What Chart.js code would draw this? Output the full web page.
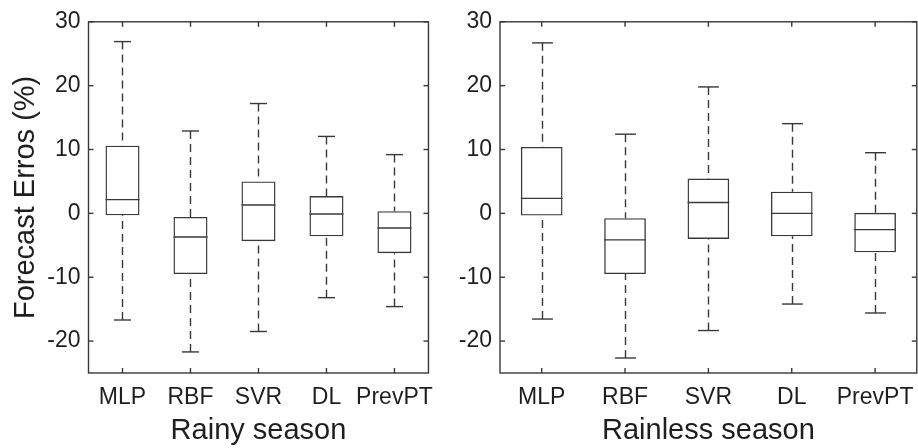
<!DOCTYPE html>
<html>
<head>
<meta charset="utf-8">
<script src="https://cdn.jsdelivr.net/npm/chart.js@4/dist/chart.umd.min.js"></script>
<style>
body { margin: 0; background: #fff; }
#lienzo { position: relative; width: 918px; height: 448px; overflow: hidden; background: #fff; }
canvas { position: absolute; top: 0; }
</style>
</head>
<body>
<div id="lienzo">
  <canvas id="graficaLluvia" width="445" height="448" style="left:0px"></canvas>
  <canvas id="graficaSeca" width="480" height="448" style="left:445px"></canvas>
</div>
<script>
const categorias = ['MLP', 'RBF', 'SVR', 'DL', 'PrevPT'];
const ticksY = [-20, -10, 0, 10, 20, 30];

// Rainy season
const lluviaMin     = [-16.7, -21.7, -18.5, -13.2, -14.6];
const lluviaQ1      = [-0.3, -9.5, -4.35, -3.6, -6.25];
const lluviaMediana = [2.15, -3.7, 1.3, -0.1, -2.3];
const lluviaQ3      = [10.6, -0.55, 5.0, 2.7, 0.35];
const lluviaMax     = [26.9, 12.9, 17.2, 12.05, 9.2];

// Rainless season
const secaMin     = [-16.55, -22.65, -18.35, -14.2, -15.6];
const secaQ1      = [-0.35, -9.5, -4.0, -3.6, -6.1];
const secaMediana = [2.35, -4.15, 1.7, 0.0, -2.55];
const secaQ3      = [10.4, -0.75, 5.45, 3.4, 0.1];
const secaMax     = [26.7, 12.4, 19.8, 14.05, 9.5];

const colorLinea = '#383838';
const colorTexto = '#1e1e1e';
const fuente = "'Liberation Sans', Arial, Helvetica, sans-serif";

function linea(ctx, x1, y1, x2, y2) {
    ctx.beginPath();
    ctx.moveTo(x1, y1);
    ctx.lineTo(x2, y2);
    ctx.stroke();
}

// bigotes, medianas, marco y marcas hacia dentro
const cajas = {
    id: 'cajas',
    afterDatasetsDraw(chart, args, opts) {
        const ctx = chart.ctx;
        const y = chart.scales.y;
        const x = chart.scales.x;
        const area = chart.chartArea;
        const meta = chart.getDatasetMeta(0);
        ctx.save();
        ctx.strokeStyle = colorLinea;
        ctx.lineWidth = 1.4;
        meta.data.forEach((barra, i) => {
            const cx = Math.round(barra.x) + 0.5;
            const mitad = barra.width / 2;
            const tapa = barra.width / 4;
            const yMax = y.getPixelForValue(opts.max[i]);
            const yMin = y.getPixelForValue(opts.min[i]);
            const yQ1 = y.getPixelForValue(opts.q1[i]);
            const yQ3 = y.getPixelForValue(opts.q3[i]);
            const yMed = y.getPixelForValue(opts.mediana[i]);
            ctx.setLineDash([8, 5]);
            linea(ctx, cx, yMax, cx, yQ3);
            linea(ctx, cx, yMin, cx, yQ1);
            ctx.setLineDash([]);
            linea(ctx, cx - tapa, yMax, cx + tapa, yMax);
            linea(ctx, cx - tapa, yMin, cx + tapa, yMin);
            linea(ctx, barra.x - mitad, yMed, barra.x + mitad, yMed);
        });
        ctx.strokeRect(area.left, area.top, area.right - area.left, area.bottom - area.top);
        ticksY.forEach(v => {
            const py = y.getPixelForValue(v);
            linea(ctx, area.left, py, area.left + 5, py);
            linea(ctx, area.right, py, area.right - 5, py);
        });
        categorias.forEach((c, i) => {
            const px = x.getPixelForValue(i);
            linea(ctx, px, area.top, px, area.top + 5);
            linea(ctx, px, area.bottom, px, area.bottom - 5);
        });
        ctx.restore();
    }
};

function crearGrafica(id, titulo, tituloY, anchoY, margenDer, q1, q3, med, min, max) {
    const cajasData = q1.map((v, i) => [v, q3[i]]);
    new Chart(document.getElementById(id), {
        type: 'bar',
        data: {
            labels: categorias,
            datasets: [{
                data: cajasData,
                backgroundColor: 'rgba(255,255,255,0)',
                borderColor: colorLinea,
                borderWidth: 1.4,
                borderSkipped: false,
                barPercentage: 0.5,
                categoryPercentage: 1
            }]
        },
        options: {
            responsive: false,
            animation: false,
            layout: { padding: { top: 18, right: margenDer, left: 0, bottom: 0 } },
            plugins: {
                legend: { display: false },
                tooltip: { enabled: false },
                cajas: { q1: q1, q3: q3, mediana: med, min: min, max: max }
            },
            scales: {
                x: {
                    grid: { display: false, drawTicks: false },
                    border: { display: false },
                    ticks: { color: colorTexto, font: { family: fuente, size: 23 }, padding: 11, maxRotation: 0, autoSkip: false },
                    title: { display: true, text: titulo, color: colorTexto, font: { family: fuente, size: 29 }, padding: { top: 0, bottom: 0 } },
                    afterFit(s) { s.height = 75; }
                },
                y: {
                    min: -25,
                    max: 30,
                    afterBuildTicks(s) { s.ticks = ticksY.map(v => ({ value: v })); },
                    grid: { display: false, drawTicks: false },
                    border: { display: false },
                    ticks: { color: colorTexto, font: { family: fuente, size: 23 }, padding: 8 },
                    title: { display: tituloY !== '', text: tituloY, color: colorTexto, font: { family: fuente, size: 29 }, padding: { top: 9, bottom: 0 } },
                    afterFit(s) { s.width = anchoY; }
                }
            }
        },
        plugins: [cajas]
    });
}

crearGrafica('graficaLluvia', 'Rainy season', 'Forecast Erros (%)', 88.5, 12,
    lluviaQ1, lluviaQ3, lluviaMediana, lluviaMin, lluviaMax);
crearGrafica('graficaSeca', 'Rainless season', '', 55, 5.5,
    secaQ1, secaQ3, secaMediana, secaMin, secaMax);
</script>
</body>
</html>
